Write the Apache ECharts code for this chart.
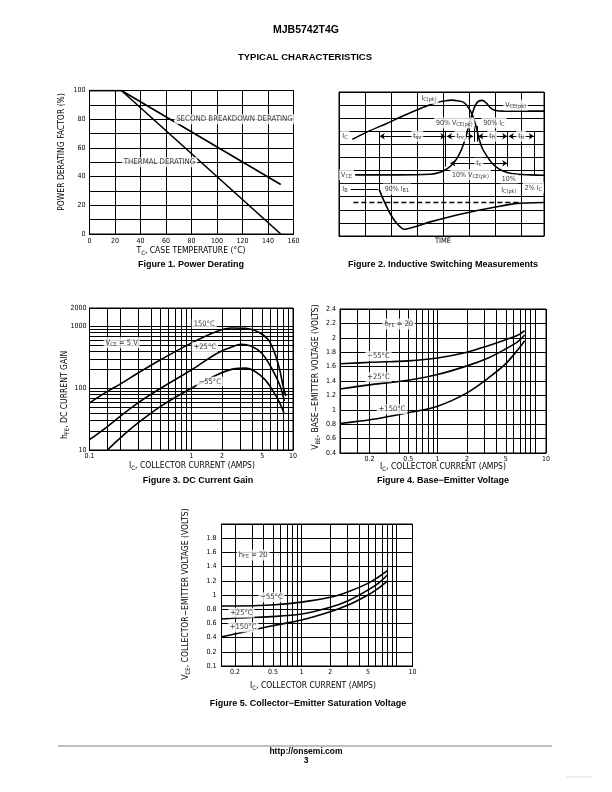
<!DOCTYPE html>
<html><head><meta charset="utf-8">
<script src="https://cdn.jsdelivr.net/npm/echarts@6/dist/echarts.min.js"></script>
<style>html,body{margin:0;padding:0;background:#fff}#c{width:612px;height:792px}</style>
</head><body><div id="c"></div>
<script>
// ---------------- DATA ----------------
// Figure 1 – Power Derating
const fig1Temp = [0, 25, 150];
const fig1SecondBreakdown = [100, 100, 34.5];
const fig1Thermal = [100, 100, 0];

// Figure 2 – Inductive switching (time / level in grid divisions)
const fig2IcTime = [0.51, 1.19, 1.77, 2.41, 3.05, 3.63, 4.08, 4.33, 4.59, 4.78, 4.97, 5.10, 5.23, 5.36, 5.49, 5.68, 5.87, 6.13, 6.45, 6.83, 7.35, 7.86];
const fig2Ic     = [7.38, 8.05, 8.54, 9.13, 9.69, 10.13, 10.33, 10.38, 10.31, 10.21, 9.79, 9.31, 8.54, 7.51, 6.72, 6.08, 5.56, 5.13, 4.85, 4.72, 4.67, 4.64];
const fig2VceTime = [0.62, 2.22, 3.5, 3.88, 4.14, 4.33, 4.53, 4.72, 4.85, 4.97, 5.10, 5.23, 5.36, 5.49, 5.65, 5.81, 6.0, 6.32, 7.86];
const fig2Vce     = [4.67, 4.67, 4.72, 4.87, 5.13, 5.44, 5.95, 6.72, 7.49, 8.38, 9.28, 10.0, 10.31, 10.36, 10.15, 9.79, 9.59, 9.54, 9.54];
const fig2IbTime = [1.54, 1.71, 1.96, 2.22, 2.5, 3.5, 4.78, 6.06, 6.83, 7.86];
const fig2Ib     = [3.56, 2.74, 1.72, 0.95, 0.51, 1.08, 1.72, 2.23, 2.49, 2.56];
const fig2RefTime = [0.55, 7.0];
const fig2Ref     = [2.56, 2.56];

// Figure 3 – DC current gain
const fig3Ic150  = [0.1, 0.15, 0.2, 0.3, 0.5, 1, 1.8, 2.5, 3.4, 4.6, 5.7, 6.6, 7.4, 8.0, 8.5];
const fig3Hfe150 = [58, 89, 117, 177, 290, 540, 840, 950, 940, 810, 615, 375, 200, 108, 75];
const fig3Ic25   = [0.1, 0.15, 0.2, 0.3, 0.5, 1, 1.8, 2.5, 3.1, 3.9, 4.9, 5.9, 6.9, 7.7, 8.2];
const fig3Hfe25  = [14.7, 24, 35, 58, 100, 198, 370, 467, 516, 480, 373, 241, 147, 95, 62];
const fig3IcM55  = [0.15, 0.2, 0.3, 0.5, 1, 1.8, 2.7, 3.4, 4.2, 5.3, 6.4, 7.4, 8.15];
const fig3HfeM55 = [10, 15.6, 27.4, 51, 100, 166, 208, 212, 189, 138, 89, 58, 40];

// Figure 4 – Base-emitter voltage
const fig4Ic     = [0.1, 0.21, 0.5, 1, 2, 3.3, 4.9, 6.7, 7.8];
const fig4VbeM55 = [1.64, 1.66, 1.68, 1.72, 1.80, 1.89, 1.97, 2.04, 2.10];
const fig4Vbe25  = [1.29, 1.35, 1.41, 1.49, 1.61, 1.72, 1.84, 1.95, 2.04];
const fig4Vbe150 = [0.81, 0.865, 0.96, 1.05, 1.235, 1.44, 1.63, 1.84, 1.96];

// Figure 5 – Collector-emitter saturation voltage
const fig5Ic     = [0.144, 0.2, 0.48, 1, 2, 3.1, 5, 6.4, 8];
const fig5VceM55 = [0.845, 0.845, 0.86, 0.90, 0.967, 1.047, 1.164, 1.25, 1.343];
const fig5Vce25  = [0.662, 0.676, 0.695, 0.732, 0.827, 0.92, 1.07, 1.164, 1.282];
const fig5Vce150 = [0.413, 0.451, 0.563, 0.648, 0.765, 0.859, 1.0, 1.094, 1.197];

// Tick labels
const fig3XTicks = [[0.1, '0.1'], [1, '1'], [2, '2'], [5, '5'], [10, '10']];
const fig3YTicks = [[10, '10'], [100, '100'], [1000, '1000'], [2000, '2000']];
const fig4XTicks = [[0.2, '0.2'], [0.5, '0.5'], [1, '1'], [2, '2'], [5, '5']];
const fig5XTicks = [[0.2, '0.2'], [0.5, '0.5'], [1, '1'], [2, '2'], [5, '5']];
const logEndLabel = '10';
const fig5YLabels = ['0.1', '0.2', '0.4', '0.6', '0.8', '1', '1.2', '1.4', '1.6', '1.8', ''];

// Axis extents
const fig4XRange = [0.1, 12.9];
const fig5XRange = [0.144, 14.7];

// Annotations [x, y, text]
const fig1Notes = [[113.7, 80, 'SECOND BREAKDOWN DERATING'], [54.9, 50, 'THERMAL DERATING']];
const fig2Notes = [
  [3.45, 10.5, 'I{s|C(pk)}'], [6.77, 10.0, 'V{s|CE(pk)}'],
  [4.42, 8.64, '90% V{s|CE(pk)}'], [5.94, 8.64, '90% I{s|C}'],
  [0.23, 7.62, 'I{s|C}'], [3.0, 7.62, 't{s|sv}'], [4.65, 7.62, 't{s|rv}'], [5.87, 7.62, 't{s|fi}'], [6.98, 7.62, 't{s|ti}'],
  [5.36, 5.56, 't{s|c}'], [0.29, 4.67, 'V{s|CE}'], [5.04, 4.67, '10% V{s|CE(pk)}'],
  [6.51, 4.36, '10%'], [6.51, 3.51, 'I{s|C(pk)}'], [7.45, 3.69, '2% I{s|C}'],
  [0.23, 3.56, 'I{s|B}'], [2.22, 3.59, '90% I{s|B1}']
];
const fig2Spans = [[1.56, 4.08, 7.62], [4.14, 5.14, 7.62], [5.34, 6.45, 7.62], [6.51, 7.47, 7.62], [4.27, 6.45, 5.56]];
const fig2Markers = [[1.56, 7.95, 3.56], [4.08, 7.95, 5.3], [5.17, 8.4, 7.2], [5.3, 8.4, 7.2], [6.45, 7.95, 5.3], [7.47, 7.95, 4.67], [0.45, 3.56, 1.5, 3.56]];
const fig3Notes = [[1.34, 1100, '150°C'], [1.36, 462, '+25°C'], [1.52, 128, '−55°C'], [0.207, 548, 'V{s|CE} = 5 V']];
const fig4Notes = [[0.40, 2.19, 'h{s|FE} = 20'], [0.248, 1.748, '−55°C'], [0.248, 1.453, '+25°C'], [0.341, 1.009, '+150°C']];
const fig5Notes = [[0.31, 1.563, 'h{s|FE} = 20'], [0.483, 0.968, '−55°C'], [0.233, 0.751, '+25°C'], [0.243, 0.545, '+150°C']];

// ---------------- RENDER ----------------
const NARROW = "'Liberation Sans Narrow','Arial Narrow','DejaVu Sans Condensed','Liberation Sans',sans-serif";
const SANS = "'Liberation Sans',Arial,Helvetica,sans-serif";
const K = '#000';
const RICH = { s: { fontSize: 5.5, fontFamily: NARROW, color: K, padding: [3, 0, 0, 0] } };
const RICH_T = { s: { fontSize: 6, fontFamily: NARROW, color: K, padding: [4, 0, 0, 0] } };

const zip = (xs, ys) => xs.map((x, i) => [x, ys[i]]);

function logLines(lo, hi) {
  const out = [];
  for (let e = -2; e <= 4; e++) for (let m = 1; m <= 9; m++) {
    const v = +(m * Math.pow(10, e)).toPrecision(6);
    if (v > lo * 1.0001 && v < hi / 1.0001) out.push(v);
  }
  return out;
}
const tickLabel = (t) => ({ show: true, position: 'start', distance: 3, formatter: t, color: K, fontFamily: NARROW, fontSize: 7 });
function gridMarkLine(xs, ys, xTicks, yTicks) {
  const data = [];
  xs.forEach(v => data.push({ xAxis: v }));
  ys.forEach(v => data.push({ yAxis: v }));
  xTicks.forEach(([v, t]) => data.push({ xAxis: v, label: tickLabel(t) }));
  yTicks.forEach(([v, t]) => data.push({ yAxis: v, label: tickLabel(t) }));
  return { silent: true, symbol: 'none', animation: false, label: { show: false },
    lineStyle: { color: K, width: 1, type: 'solid' }, emphasis: { disabled: true }, data };
}

function curve(i, xs, ys, extra) {
  return Object.assign({ type: 'line', xAxisIndex: i, yAxisIndex: i, data: zip(xs, ys), showSymbol: false, symbol: 'none',
    smooth: 0.35, lineStyle: { color: K, width: 1.6 }, silent: true, z: 3 }, extra || {});
}
function notes(i, arr, size) {
  return { type: 'scatter', xAxisIndex: i, yAxisIndex: i, symbolSize: 0, silent: true, z: 6,
    itemStyle: { color: 'rgba(0,0,0,0)' },
    label: { show: true, position: 'inside', color: K, fontFamily: NARROW, fontSize: size || 7.5, backgroundColor: '#fff', padding: [1, 2], rich: RICH },
    data: arr.map(a => ({ value: [a[0], a[1]], label: { formatter: a[2] } })) };
}

const axisLine = { show: true, lineStyle: { color: K, width: 1 } };
const split = { show: true, lineStyle: { color: K, width: 1 } };
const tickFont = { color: K, fontFamily: NARROW, fontSize: 7 };
const noLbl = { show: false };
const noTick = { show: false };

const grids = [
  { left: 89.5, top: 90.5, width: 204, height: 143.5 },
  { left: 339, top: 92, width: 205, height: 144 },
  { left: 89.5, top: 308, width: 203.5, height: 142 },
  { left: 340, top: 309, width: 206, height: 144 },
  { left: 221.5, top: 524, width: 191, height: 142 }
].map(g => Object.assign(g, { show: true, borderColor: K, borderWidth: 1, backgroundColor: 'rgba(0,0,0,0)', containLabel: false, outerBoundsMode: 'none' }));

const xAxes = [
  { type: 'value', gridIndex: 0, min: 0, max: 160, interval: 20, axisLine, axisTick: noTick, splitLine: split, axisLabel: Object.assign({ margin: 4 }, tickFont) },
  { type: 'value', gridIndex: 1, min: 0, max: 7.86, interval: 1, axisLine, axisTick: noTick, splitLine: split, axisLabel: noLbl },
  { type: 'log', gridIndex: 2, min: 0.1, max: 10, axisLine, axisTick: noTick, splitLine: { show: false }, axisLabel: noLbl },
  { type: 'log', gridIndex: 3, min: fig4XRange[0], max: fig4XRange[1], axisLine, axisTick: noTick, splitLine: { show: false }, axisLabel: noLbl },
  { type: 'log', gridIndex: 4, min: fig5XRange[0], max: fig5XRange[1], axisLine, axisTick: noTick, splitLine: { show: false }, axisLabel: noLbl }
];
const yAxes = [
  { type: 'value', gridIndex: 0, min: 0, max: 100, interval: 20, axisLine, axisTick: noTick, splitLine: split,
    minorTick: { show: false, splitNumber: 2 }, minorSplitLine: split, axisLabel: Object.assign({ margin: 4 }, tickFont) },
  { type: 'value', gridIndex: 1, min: 0, max: 11, interval: 1, axisLine, axisTick: noTick, splitLine: split, axisLabel: noLbl },
  { type: 'log', gridIndex: 2, min: 10, max: 2000, axisLine, axisTick: noTick, splitLine: { show: false }, axisLabel: noLbl },
  { type: 'value', gridIndex: 3, min: 0.4, max: 2.4, interval: 0.2, axisLine, axisTick: noTick, splitLine: split, axisLabel: Object.assign({ margin: 4 }, tickFont) },
  { type: 'value', gridIndex: 4, min: 0, max: 2, interval: 0.2, axisLine, axisTick: noTick, splitLine: split,
    axisLabel: Object.assign({ margin: 5, formatter: (v, idx) => fig5YLabels[Math.round(v / 0.2)] }, tickFont) }
];

// Figure 2 markLine (arrows and markers)
const fig2ML = [];
fig2Spans.forEach(([a, b, y]) => fig2ML.push([{ coord: [a, y], symbol: 'arrow' }, { coord: [b, y], symbol: 'arrow' }]));
fig2Markers.forEach(m => {
  if (m.length === 3) fig2ML.push([{ coord: [m[0], m[1]], symbol: 'none' }, { coord: [m[0], m[2]], symbol: 'none' }]);
  else fig2ML.push([{ coord: [m[0], m[1]], symbol: 'none' }, { coord: [m[2], m[3]], symbol: 'none' }]);
});

const series = [
  curve(0, fig1Temp, fig1SecondBreakdown, { smooth: false }),
  curve(0, fig1Temp, fig1Thermal, { smooth: false }),
  notes(0, fig1Notes, 7.8),

  curve(1, fig2IcTime, fig2Ic, { smooth: 0.4, markLine: { silent: true, animation: false, symbolSize: 5,
    lineStyle: { color: K, width: 1, type: 'solid' }, label: { show: false }, emphasis: { disabled: true }, data: fig2ML } }),
  curve(1, fig2VceTime, fig2Vce, { smooth: 0.4 }),
  curve(1, fig2IbTime, fig2Ib, { smooth: 0.2 }),
  curve(1, fig2RefTime, fig2Ref, { smooth: false, lineStyle: { color: K, width: 1.6, type: [5, 3] } }),
  notes(1, fig2Notes, 7),

  curve(2, fig3Ic150, fig3Hfe150, { markLine: gridMarkLine(logLines(0.1, 10).concat([0.15]), logLines(10, 2000), fig3XTicks, fig3YTicks) }),
  curve(2, fig3Ic25, fig3Hfe25),
  curve(2, fig3IcM55, fig3HfeM55),
  notes(2, fig3Notes, 7.5),

  curve(3, fig4Ic, fig4VbeM55, { markLine: gridMarkLine(logLines(fig4XRange[0], fig4XRange[1]).concat([0.15]), [],
    fig4XTicks.concat([[fig4XRange[1], logEndLabel]]), []) }),
  curve(3, fig4Ic, fig4Vbe25),
  curve(3, fig4Ic, fig4Vbe150),
  notes(3, fig4Notes, 7.5),

  curve(4, fig5Ic, fig5VceM55, { markLine: gridMarkLine(logLines(fig5XRange[0], fig5XRange[1]), [],
    fig5XTicks.concat([[fig5XRange[1], logEndLabel]]), []) }),
  curve(4, fig5Ic, fig5Vce25),
  curve(4, fig5Ic, fig5Vce150),
  notes(4, fig5Notes, 7.5)
];

function txt(x, y, text, o) {
  o = o || {};
  const el = { type: 'text', x, y, silent: true, z: 10,
    style: { text, fill: K, fontFamily: o.font || NARROW, fontSize: o.size || 8.5, fontWeight: o.weight || 'normal',
      align: 'center', verticalAlign: 'middle', textAlign: 'center', textVerticalAlign: 'middle', rich: RICH_T } };
  if (o.rot) el.rotation = Math.PI / 2;
  return el;
}
const B = { font: SANS, weight: 'bold', size: 9 };

const graphic = [
  txt(306, 30, 'MJB5742T4G', { font: SANS, weight: 'bold', size: 10.5 }),
  txt(305, 57, 'TYPICAL CHARACTERISTICS', { font: SANS, weight: 'bold', size: 9.5 }),
  // Fig 1
  txt(62, 152, 'POWER DERATING FACTOR (%)', { rot: true }),
  txt(191, 251, 'T{s|C}, CASE TEMPERATURE (°C)'),
  txt(191, 265, 'Figure 1. Power Derating', B),
  // Fig 2
  txt(443, 241, 'TIME', { size: 7.5 }),
  txt(443, 265, 'Figure 2. Inductive Switching Measurements', B),
  // Fig 3
  txt(65, 395, 'h{s|FE}, DC CURRENT GAIN', { rot: true }),
  txt(192, 466, 'I{s|C}, COLLECTOR CURRENT (AMPS)'),
  txt(198, 481, 'Figure 3. DC Current Gain', B),
  // Fig 4
  txt(316, 377, 'V{s|BE}, BASE−EMITTER VOLTAGE (VOLTS)', { rot: true }),
  txt(443, 467, 'I{s|C}, COLLECTOR CURRENT (AMPS)'),
  txt(443, 481, 'Figure 4. Base−Emitter Voltage', B),
  // Fig 5
  txt(186, 594, 'V{s|CE}, COLLECTOR−EMITTER VOLTAGE (VOLTS)', { rot: true }),
  txt(313, 686, 'I{s|C}, COLLECTOR CURRENT (AMPS)'),
  txt(308, 704, 'Figure 5. Collector−Emitter Saturation Voltage', B),
  // footer
  { type: 'line', silent: true, shape: { x1: 58, y1: 746, x2: 552, y2: 746 }, style: { stroke: '#aaa', lineWidth: 1.5 } },
  txt(306, 752, 'http://onsemi.com', { font: SANS, weight: 'bold', size: 8.5 }),
  txt(306, 761, '3', { font: SANS, weight: 'bold', size: 8.5 }),
  { type: 'line', silent: true, shape: { x1: 566, y1: 777, x2: 592, y2: 777 }, style: { stroke: '#e0e0e0', lineWidth: 1 } }
];

const chart = echarts.init(document.getElementById('c'), null, { renderer: 'canvas', width: 612, height: 792 });
chart.setOption({
  animation: false,
  backgroundColor: '#fff',
  grid: grids, xAxis: xAxes, yAxis: yAxes, series, graphic
});
</script></body></html>
